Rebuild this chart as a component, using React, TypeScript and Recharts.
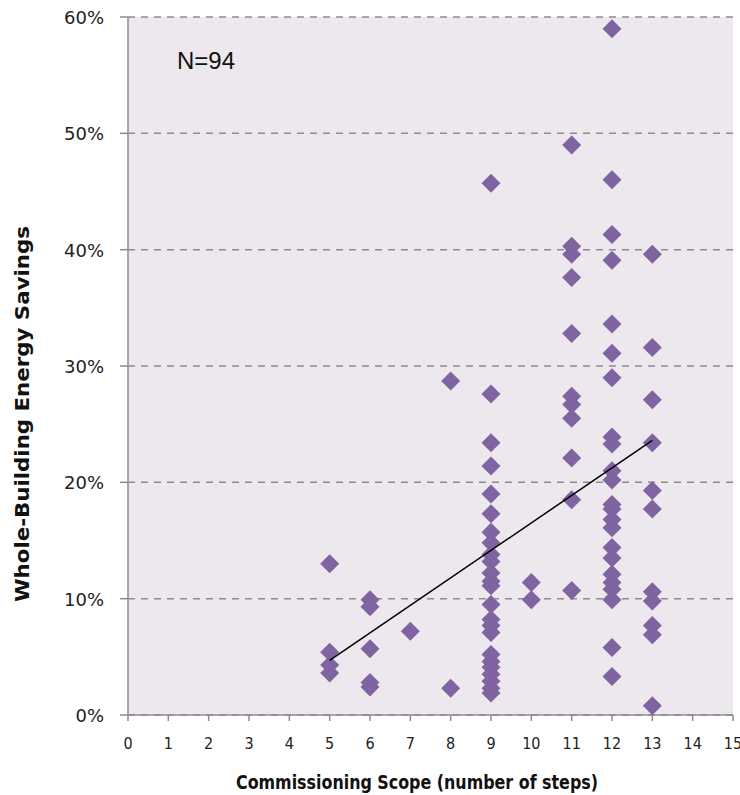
import React from 'react';
import {
  ScatterChart, Scatter, XAxis, YAxis, CartesianGrid, Label
} from 'recharts';

// commissioning scope (number of steps) for each column of points
const steps = [5, 6, 7, 8, 9, 10, 11, 12, 13];

// whole-building savings (%) read per column, same order as steps
const savings5 = [13.0, 5.4, 4.3, 3.6];
const savings6 = [9.9, 9.3, 5.7, 2.8, 2.4];
const savings7 = [7.2];
const savings8 = [28.7, 2.3];
const savings9 = [45.7, 27.6, 23.4, 21.4, 19.0, 17.3, 15.7, 14.8, 13.8, 13.2, 12.2, 11.5, 11.1,
  9.5, 8.2, 7.7, 7.1, 5.2, 4.6, 4.1, 3.5, 2.9, 2.3, 1.9];
const savings10 = [11.4, 9.9];
const savings11 = [49.0, 40.3, 39.6, 37.6, 32.8, 27.4, 26.7, 25.5, 22.1, 18.5, 10.7];
const savings12 = [59.0, 46.0, 41.3, 39.1, 33.6, 31.1, 29.0, 23.9, 23.3, 21.0, 20.2, 18.1, 17.7,
  16.8, 16.1, 14.4, 13.5, 12.1, 11.4, 10.8, 9.9, 5.8, 3.3];
const savings13 = [39.6, 31.6, 27.1, 23.4, 19.3, 17.7, 10.6, 9.8, 7.7, 6.9, 0.8];

// linear trend line end points (%)
const trendSteps = [5, 13];
const trendSavings = [4.7, 23.6];

const xTicks = [0, 1, 2, 3, 4, 5, 6, 7, 8, 9, 10, 11, 12, 13, 14, 15];
const yTicks = [0, 10, 20, 30, 40, 50, 60];

const columns = [savings5, savings6, savings7, savings8, savings9, savings10, savings11, savings12, savings13];
const points = columns.flatMap((col, i) => col.map(v => ({ x: steps[i], y: v })));
const trend = trendSteps.map((x, i) => ({ x, y: trendSavings[i] }));

const PURPLE = '#8064A2';
const narrow = "'Liberation Sans Narrow', 'DejaVu Sans Condensed', sans-serif";

const Diamond = (props: any) => {
  const { cx, cy } = props;
  const r = 9.5;
  return (
    <polygon
      points={`${cx},${cy - r} ${cx + r},${cy} ${cx},${cy + r} ${cx - r},${cy}`}
      fill={PURPLE}
    />
  );
};

const XTick = (props: any) => {
  const { x, y, payload } = props;
  return (
    <text x={x} y={y + 18} textAnchor="middle" style={{ fontSize: 16, fontFamily: narrow }} fill="#222">
      {payload.value}
    </text>
  );
};

const YTick = (props: any) => {
  const { x, y, payload } = props;
  return (
    <text x={x} y={y + 7} textAnchor="end" style={{ fontSize: 18, fontFamily: "'DejaVu Sans', sans-serif" }} fill="#222">
      {`${payload.value}%`}
    </text>
  );
};

export default function App() {
  return (
    <div style={{ position: 'absolute', left: 0, top: 0, width: 740, height: 795, background: '#fff' }}>
      <ScatterChart width={740} height={795} margin={{ top: 17, right: 7, bottom: 0, left: 0 }}>
        <CartesianGrid
          vertical={false}
          stroke="#8c8c8c"
          strokeWidth={1.5}
          strokeDasharray="7 6"
          fill="#ECE8EE"
        />
        <XAxis
          type="number"
          dataKey="x"
          domain={[0, 15]}
          ticks={xTicks}
          interval={0}
          height={80}
          stroke="#8c8c8c"
          strokeWidth={1.5}
          tickSize={6}
          tickMargin={10}
          tick={<XTick />}
        >
          <Label
            content={() => (
              <text x={417} y={789} textAnchor="middle" fontSize={20} fontWeight="bold" fontFamily={narrow}
                fill="#111" textLength={362} lengthAdjust="spacingAndGlyphs">
                Commissioning Scope (number of steps)
              </text>
            )}
          />
        </XAxis>
        <YAxis
          type="number"
          dataKey="y"
          domain={[0, 60]}
          ticks={yTicks}
          interval={0}
          width={128}
          stroke="#8c8c8c"
          strokeWidth={1.5}
          tickSize={8}
          tickMargin={16}
          tick={<YTick />}
        >
          <Label
            content={() => (
              <text
                x={29}
                y={414}
                transform="rotate(-90 29 414)"
                textAnchor="middle"
                fontSize={20}
                fontWeight="bold"
                fontFamily={narrow}
                fill="#111"
                textLength={376}
                lengthAdjust="spacingAndGlyphs"
              >
                Whole-Building Energy Savings
              </text>
            )}
          />
        </YAxis>
        <Scatter data={points} shape={<Diamond />} isAnimationActive={false} />
        <Scatter
          data={trend}
          line={{ stroke: '#000', strokeWidth: 1.5 }}
          shape={() => <g />}
          isAnimationActive={false}
        />
      </ScatterChart>
      <div
        style={{
          position: 'absolute', left: 177, top: 47, fontSize: 24,
          fontFamily: "'Liberation Sans', Arial, sans-serif", color: '#111'
        }}
      >
        N=94
      </div>
    </div>
  );
}
